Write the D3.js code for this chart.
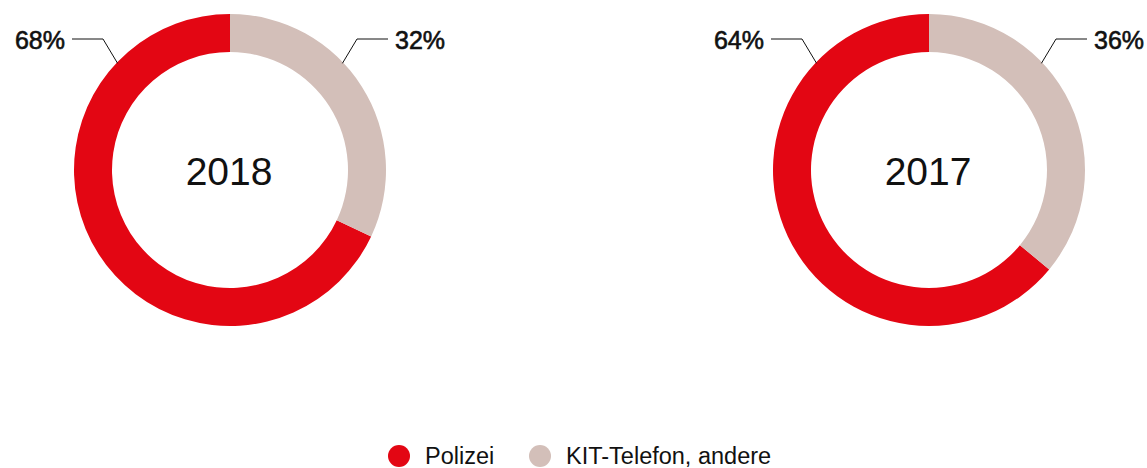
<!DOCTYPE html>
<html>
<head>
<meta charset="utf-8">
<script src="https://cdn.jsdelivr.net/npm/d3@7"></script>
<style>
  body { margin: 0; background: #fff; }
  svg text { font-family: "Liberation Sans", Arial, Helvetica, sans-serif; fill: #111; }
</style>
</head>
<body>
<div id="chart"></div>
<script>
// data
const years = ["2018", "2017"];
const categories = ["Polizei", "KIT-Telefon, andere"];
const polizei = [68, 64];
const kitAndere = [32, 36];
const colors = ["#e30613", "#d3bfb9"];

const width = 1147, height = 468;
const outerR = 156, innerR = 118;
const centersX = [230, 929], centerY = 170;

let svg = d3.select("#chart")
    .append("svg")
    .attr("width", width)
    .attr("height", height);

let color = d3.scaleOrdinal().domain(categories).range(colors);

// pie going counter-clockwise from 12 o'clock, Polizei first
const pie = d3.pie()
    .sort(null)
    .value(d => d.value)
    .startAngle(0)
    .endAngle(-2 * Math.PI);

const arc = d3.arc().innerRadius(innerR).outerRadius(outerR);

years.forEach(function(year, i) {
    let data = [
        {cat: categories[0], value: polizei[i]},
        {cat: categories[1], value: kitAndere[i]}
    ];
    let g = svg.append("g")
        .attr("transform", "translate(" + centersX[i] + "," + centerY + ")");

    g.selectAll("path")
        .data(pie(data))
        .join("path")
        .attr("d", arc)
        .attr("fill", d => color(d.data.cat));

    // year in the middle
    g.append("text")
        .attr("text-anchor", "middle")
        .attr("x", -1)
        .attr("y", 15)
        .style("font-size", "39px")
        .text(year);

    // labels with leader lines, left = Polizei, right = KIT
    const anchorAngle = 46.5 * Math.PI / 180;
    data.forEach(function(d, j) {
        let side = j === 0 ? -1 : 1;
        let ax = side * (outerR - 1) * Math.sin(anchorAngle);
        let ay = -(outerR - 1) * Math.cos(anchorAngle);
        let ex = side * 127, ey = -131;
        let hx = side * 158;
        g.append("polyline")
            .attr("points", [[ax, ay], [ex, ey], [hx, ey]].map(p => p.join(",")).join(" "))
            .attr("fill", "none")
            .attr("stroke", "#111")
            .attr("stroke-width", 1);
        g.append("text")
            .attr("x", hx + side * 7)
            .attr("y", ey + 10)
            .attr("text-anchor", side < 0 ? "end" : "start")
            .style("font-size", "25px")
            .style("stroke", "#111")
            .style("stroke-width", 0.6)
            .text(d.value + "%");
    });
});

// legend
let legend = svg.append("g");
const legendX = [399, 540], legendY = 456;
categories.forEach(function(c, i) {
    legend.append("circle")
        .attr("cx", legendX[i])
        .attr("cy", legendY)
        .attr("r", 11)
        .attr("fill", color(c));
    legend.append("text")
        .attr("x", legendX[i] + 26)
        .attr("y", legendY + 8)
        .style("font-size", "23.5px")
        .text(c);
});
</script>
</body>
</html>
